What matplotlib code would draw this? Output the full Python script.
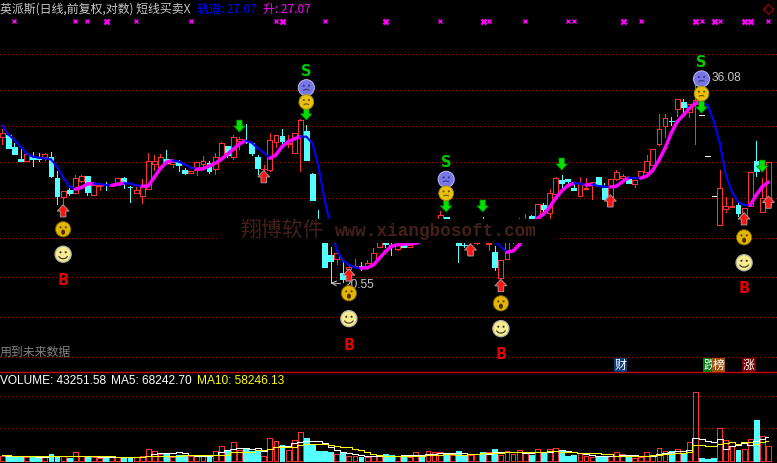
import matplotlib
matplotlib.use("Agg")
import matplotlib.pyplot as plt
from matplotlib.offsetbox import AnnotationBbox, DrawingArea
from matplotlib.patches import Arc, Circle, Ellipse, Polygon, Rectangle

# ───────── Data ──────────────────────────────────────────────────────
opens = [
    30.60, 30.80, 29.80, 28.84, 28.71, 28.97, 29.00, 29.00, 28.97, 27.38,
    25.99, 26.52, 26.31, 27.16, 27.53, 26.14, 26.79, 26.86, 26.79, 26.94,
    27.38, 26.74, 26.31, 26.06, 26.59, 28.45, 28.21, 28.81, 28.45, 28.58,
    27.96, 27.73, 28.00, 28.45, 28.50, 28.03, 28.89, 29.86, 28.97, 30.30,
    30.32, 30.11, 29.00, 28.04, 27.98, 30.22, 30.71, 30.05, 29.34, 30.71,
    31.14, 27.68, 24.28, 24.01, 22.18, 21.96, 21.10, 21.33, 21.46, 21.52,
    21.44, 21.72, 22.66, 22.92, 22.80, 22.57, 22.80, 22.66, 23.11, 24.01,
    23.37, 23.24, 24.50, 24.59, 23.37, 22.92, 22.81, 22.99, 22.92, 24.35,
    22.86, 22.35, 20.85, 21.96, 22.99, 23.43, 23.75, 24.68, 24.48, 25.42,
    24.87, 26.21, 27.23, 27.28, 26.62, 26.09, 26.57, 26.86, 27.45, 26.64,
    25.97, 27.28, 27.35, 27.30, 26.92, 27.43, 27.85, 28.39, 30.05, 31.56,
    32.02, 33.09, 33.70, 32.82, 33.52, 32.52, 29.08, 26.06, 24.06, 25.14,
    25.32, 25.44, 24.75, 25.37, 28.66, 24.97, 25.44,
]
highs = [
    31.28, 30.80, 30.16, 29.72, 29.21, 29.40, 29.34, 29.32, 29.40, 27.90,
    26.41, 26.62, 27.58, 27.60, 27.53, 26.86, 26.86, 27.08, 26.94, 27.38,
    27.47, 26.79, 26.74, 27.28, 29.32, 29.16, 29.24, 29.56, 28.76, 28.76,
    28.11, 27.90, 28.58, 29.08, 28.66, 29.29, 30.19, 29.86, 30.78, 30.60,
    31.73, 30.22, 29.16, 28.37, 30.94, 30.77, 31.28, 30.80, 31.00, 32.14,
    31.64, 27.73, 25.09, 24.28, 22.69, 22.45, 21.84, 21.58, 21.94, 21.78,
    21.88, 22.61, 23.62, 23.43, 23.24, 23.11, 23.11, 22.92, 24.28, 24.15,
    24.41, 24.35, 25.02, 24.59, 24.28, 23.43, 22.92, 23.90, 24.01, 24.61,
    23.11, 22.74, 21.88, 23.75, 24.28, 24.54, 24.81, 24.75, 25.49, 25.56,
    26.57, 27.43, 27.60, 27.28, 26.94, 27.43, 27.35, 27.06, 27.45, 26.99,
    27.28, 27.98, 27.68, 27.30, 27.23, 27.90, 29.16, 29.62, 32.62, 32.62,
    32.32, 33.94, 33.97, 33.49, 36.08, 32.52, 29.08, 26.06, 27.98, 25.97,
    25.92, 25.56, 25.21, 27.81, 30.30, 27.35, 28.58,
]
lows = [
    30.05, 29.72, 29.24, 28.71, 28.71, 28.29, 28.71, 28.76, 27.47, 25.50,
    25.36, 26.14, 26.28, 27.06, 26.14, 26.14, 26.50, 26.52, 26.79, 26.94,
    26.64, 25.64, 26.31, 25.55, 26.55, 27.98, 28.11, 28.50, 28.24, 27.90,
    27.68, 27.73, 27.62, 28.24, 27.73, 27.68, 28.84, 28.97, 28.86, 29.62,
    30.16, 29.18, 27.68, 27.85, 27.88, 29.83, 30.16, 29.83, 29.34, 27.93,
    28.76, 25.78, 23.11, 21.48, 20.55, 21.64, 20.62, 21.19, 21.44, 21.29,
    21.38, 21.68, 22.66, 22.69, 22.18, 22.49, 22.66, 22.66, 22.99, 23.05,
    23.24, 23.18, 24.50, 24.50, 23.24, 21.78, 22.66, 22.69, 22.86, 23.30,
    22.49, 21.29, 20.85, 21.96, 22.92, 23.30, 23.62, 24.48, 24.48, 24.95,
    24.56, 26.16, 26.74, 26.86, 26.52, 26.09, 26.55, 25.87, 26.81, 25.87,
    25.97, 27.23, 27.18, 26.99, 26.74, 27.43, 27.81, 28.39, 29.97, 30.65,
    31.65, 32.44, 32.67, 32.38, 30.05, 32.52, 29.08, 26.06, 24.06, 24.97,
    25.32, 24.68, 24.75, 25.37, 27.52, 24.97, 25.44,
]
closes = [
    30.94, 29.72, 29.24, 28.71, 29.21, 28.84, 28.86, 29.24, 27.52, 26.06,
    26.41, 26.28, 27.38, 27.53, 26.36, 26.86, 26.83, 26.83, 26.94, 27.38,
    27.08, 26.70, 26.50, 26.72, 28.66, 28.66, 28.97, 28.55, 28.58, 28.34,
    27.76, 27.90, 28.58, 28.66, 27.93, 28.97, 30.11, 29.16, 30.60, 30.44,
    30.22, 29.34, 28.13, 28.07, 30.38, 30.77, 30.30, 30.13, 31.00, 32.08,
    28.76, 25.78, 23.24, 21.48, 21.82, 22.29, 20.79, 21.44, 21.52, 21.44,
    21.72, 22.29, 23.43, 22.89, 22.77, 22.80, 22.69, 22.80, 24.01, 23.24,
    24.28, 24.28, 24.75, 24.50, 24.15, 22.81, 22.77, 23.75, 23.88, 23.43,
    22.92, 21.44, 21.88, 23.62, 24.08, 24.41, 24.48, 24.56, 25.49, 25.14,
    26.26, 27.35, 27.01, 27.13, 26.52, 26.99, 26.64, 27.06, 26.81, 25.87,
    27.28, 27.85, 27.50, 26.99, 27.23, 27.90, 28.71, 29.62, 31.31, 32.23,
    31.99, 33.94, 33.27, 33.49, 33.88, 32.52, 29.08, 26.06, 26.62, 25.34,
    25.39, 24.87, 25.21, 27.81, 27.93, 25.90, 28.58,
]
# trend line, blue while falling and magenta while rising
track = [
    31.62, 30.82, 30.38, 29.83, 29.29, 29.02, 28.94, 28.89, 28.81, 28.24,
    27.43, 26.79, 26.55, 26.67, 26.94, 26.96, 26.94, 26.86, 26.84, 26.92,
    26.99, 26.98, 26.84, 26.78, 26.79, 27.43, 28.11, 28.58, 28.71, 28.63,
    28.42, 28.16, 28.06, 28.07, 28.29, 28.50, 28.81, 29.21, 29.62, 30.05,
    30.30, 30.16, 29.70, 29.34, 28.89, 29.16, 29.83, 30.24, 30.46, 30.66,
    30.65, 30.11, 28.24, 25.78, 24.01, 22.49, 21.84, 21.60, 21.44, 21.40,
    21.42, 21.58, 21.98, 22.39, 22.72, 22.82, 22.86, 22.88, 22.91, 23.05,
    23.30, 23.62, 23.81, 23.94, 24.01, 23.98, 23.94, 23.81, 23.62, 23.43,
    23.24, 23.05, 22.67, 22.35, 22.43, 22.80, 23.49, 24.08, 24.52, 24.80,
    25.27, 25.90, 26.43, 26.81, 26.99, 26.97, 26.86, 26.89, 26.79, 26.74,
    26.72, 26.77, 27.11, 27.38, 27.38, 27.37, 27.53, 27.98, 28.76, 29.70,
    30.94, 31.93, 32.50, 33.12, 33.58, 33.73, 33.42, 32.00, 30.11, 27.60,
    26.38, 25.66, 25.44, 25.42, 26.14, 26.74, 27.07,
]
# volume in thousands
volume = [
    14.0, 14.0, 14.0, 14.0, 11.2, 11.2, 11.2, 11.2, 21.4, 14.0,
    14.0, 10.2, 26.0, 14.0, 14.0, 12.1, 9.3, 12.1, 11.2, 11.2,
    11.2, 11.2, 11.2, 14.9, 34.4, 28.8, 21.4, 21.4, 13.0, 19.5,
    17.7, 14.0, 14.0, 15.8, 14.0, 28.8, 43.7, 28.8, 53.9, 30.7,
    38.1, 27.9, 32.6, 15.8, 65.1, 56.7, 46.5, 32.6, 59.5, 81.8,
    66.0, 47.4, 29.8, 29.8, 27.0, 20.5, 25.1, 14.9, 14.9, 13.0,
    13.0, 14.9, 14.9, 21.4, 17.7, 14.9, 17.7, 13.0, 26.0, 17.7,
    28.8, 25.1, 26.0, 19.5, 17.7, 29.8, 18.6, 17.7, 20.5, 26.0,
    26.0, 35.3, 17.7, 28.8, 20.5, 31.6, 23.3, 18.6, 34.4, 25.1,
    34.4, 37.2, 28.8, 15.8, 18.6, 22.3, 14.9, 12.1, 13.0, 14.0,
    15.8, 26.0, 21.4, 13.0, 8.4, 12.1, 26.0, 17.7, 37.2, 27.9,
    27.9, 34.4, 22.3, 53.9, 193.4, 9.3, 7.4, 9.3, 93.0, 59.5,
    42.8, 31.6, 34.4, 62.3, 116.3, 70.7, 43.25,
]
ma5 = [
    17.7, 16.7, 16.7, 15.8, 14.9, 14.0, 13.0, 13.0, 14.0, 14.9,
    14.9, 14.0, 14.9, 15.8, 15.8, 14.0, 12.1, 11.2, 12.1, 11.2,
    11.2, 11.2, 11.2, 12.1, 16.7, 20.5, 22.3, 24.2, 23.3, 25.1,
    23.3, 19.5, 15.8, 14.9, 15.8, 19.5, 25.1, 30.7, 34.4, 37.0,
    39.0, 35.8, 36.6, 30.0, 34.4, 39.6, 43.4, 43.4, 52.0, 55.4,
    57.2, 57.4, 56.9, 51.0, 40.0, 31.0, 26.4, 23.4, 20.5, 17.6,
    16.2, 14.2, 14.2, 15.2, 16.6, 16.6, 17.2, 17.0, 17.9, 17.9,
    20.5, 22.1, 24.7, 23.4, 23.4, 23.6, 22.3, 20.6, 20.7, 22.5,
    21.8, 25.1, 25.1, 26.8, 25.6, 26.8, 24.4, 24.6, 25.7, 26.6,
    27.2, 30.0, 32.0, 28.3, 27.0, 24.5, 20.1, 16.8, 16.2, 15.3,
    14.0, 16.2, 18.0, 18.0, 16.9, 16.2, 16.2, 15.4, 20.3, 24.2,
    27.4, 29.0, 30.0, 33.2, 66.4, 62.6, 57.2, 54.6, 62.5, 35.7,
    42.4, 47.2, 52.2, 46.2, 57.4, 63.0, 68.24,
]
ma10 = [
    19.5, 19.5, 16.7, 16.7, 16.7, 14.9, 14.9, 14.9, 14.0, 14.0,
    14.0, 14.0, 14.0, 14.0, 14.0, 14.0, 14.0, 14.0, 14.0, 12.1,
    12.1, 12.1, 12.1, 12.1, 14.0, 14.0, 15.8, 15.8, 16.7, 16.7,
    17.7, 19.5, 19.5, 19.5, 19.5, 17.7, 19.5, 19.5, 26.0, 26.0,
    26.0, 26.0, 30.7, 30.7, 35.3, 39.1, 40.9, 40.0, 40.9, 44.6,
    47.4, 47.4, 47.4, 49.3, 44.6, 42.8, 40.0, 39.1, 34.4, 30.7,
    26.0, 20.5, 17.7, 16.7, 16.7, 16.7, 15.8, 15.8, 16.7, 16.7,
    19.5, 19.5, 19.5, 20.5, 20.5, 19.5, 19.5, 21.4, 21.4, 22.3,
    22.3, 24.2, 24.2, 25.1, 25.1, 25.1, 25.1, 26.0, 26.0, 26.0,
    27.9, 27.9, 27.0, 26.0, 26.0, 24.2, 24.2, 22.3, 22.3, 20.5,
    20.5, 16.7, 16.7, 15.8, 15.8, 14.9, 15.8, 18.6, 18.6, 20.5,
    20.5, 23.3, 23.3, 25.1, 45.6, 44.6, 42.8, 42.8, 49.3, 52.1,
    53.9, 49.3, 53.9, 53.9, 47.4, 54.9, 58.25,
]
price_grid = [38.42, 34.83, 31.56, 28.60, 25.92, 23.24, 20.89, 18.73, 16.79]
volume_grid = [182.7, 93.5]
separator_level = 249.7

# signals: candle index plus the price level of each stacked icon
buy_idx = [10, 57, 82, 122]
buy_arrow = [25.02, 21.00, 20.40, 24.48]
buy_shock = [23.80, 19.98, 19.44, 23.28]
buy_smile = [22.23, 18.64, 18.14, 21.72]
buy_label = [20.68, 17.30, 16.88, 20.22]

sell_idx = [50, 73, 115]
sell_label = [36.67, 28.55, 37.49]
sell_purple = [35.04, 27.28, 35.89]
sell_yellow = [33.70, 26.26, 34.48]
sell_arrow = [32.62, 25.37, 33.25]

up_arrow_idx = [43, 77, 100, 126]
up_arrow_price = [27.47, 22.49, 25.71, 25.62]
down_arrow_idx = [39, 79, 92, 125]
down_arrow_price = [31.56, 25.37, 28.45, 28.29]

mark_idx = [2, 12, 14, 22, 31, 45, 53, 72, 80, 86, 93, 94, 105, 115, 118, 126]
mark_bold_idx = [17, 46, 63, 79, 102, 114, 117, 122, 123]
mark_price = 42.0

RED = "#FF3232"
CYAN = "#54FFFF"
GRID = "#A80000"
LATIN = ["Liberation Sans", "Noto Sans CJK SC"]
CJK = ["Noto Sans CJK SC", "DejaVu Sans"]


def px(x, y):
    return x / 777, 1 - y / 463


fig = plt.figure(figsize=(7.77, 4.63), dpi=100, facecolor="black")
ax = fig.add_axes([0, 103 / 463, 1, 360 / 463])
ax_vol = fig.add_axes([0, 0, 1, 103 / 463])
for a in (ax, ax_vol):
    a.set_xlim(-0.383, 127.41)
    a.set_axis_off()
ax.set_yscale("log")
ax.set_ylim(16.65, 44.53)
ax_vol.set_ylim(-4.2, 283)

# ───────── Candles ───────────────────────────────────────────────────
for lvl in price_grid:
    ax.axhline(lvl, color=GRID, lw=0.72, ls=(0, (1, 3.3)), zorder=1, antialiased=False)

idx = list(range(len(opens)))
for i in idx:
    o, h, l, c = opens[i], highs[i], lows[i], closes[i]
    if o == c:
        ax.hlines(c, i - 0.36, i + 0.36, color="white", lw=0.72, zorder=3, antialiased=False)
        continue
    col = RED if c > o else CYAN
    ax.vlines(i, l, h, color=col, lw=0.72, zorder=2, antialiased=False)
    ax.bar(i, abs(c - o), bottom=min(o, c), width=0.8,
           facecolor="black" if c > o else CYAN, edgecolor=col, lw=0.72, zorder=3,
           antialiased=False)

for i in idx[:-1]:
    rising = track[i + 1] > track[i]
    ax.plot([i, i + 1], track[i:i + 2], color="#FF00FF" if rising else "#0000FF",
            lw=2.5 if rising else 1.5, solid_capstyle="round", zorder=4)

ax.plot(mark_idx, [mark_price] * len(mark_idx), ls="none", marker="x", ms=3.2, mew=1.0,
        color="#FF00FF", zorder=4)
ax.plot(mark_bold_idx, [mark_price] * len(mark_bold_idx), ls="none", marker="x", ms=3.6, mew=1.8,
        color="#FF00FF", zorder=4)
ax.plot([126], [43.42], ls="none", marker="D", ms=5.2, mew=0.8, mfc="none", mec="#B00000", zorder=4)

# the watermark wipes out whatever sits behind it
ax.add_patch(Rectangle((35.8, 22.92), 55.1, 24.48 - 22.92, facecolor="black", edgecolor="none", zorder=5))


# ───────── Icons ─────────────────────────────────────────────────────
def icon(i, price, artists, size=12):
    da = DrawingArea(size, size, 0, 0)
    for art in artists:
        da.add_artist(art)
    ax.add_artist(AnnotationBbox(da, (i, price), frameon=False, pad=0,
                                 box_alignment=(0.5, 0.5), zorder=7))


def eyes(col):
    return [Circle((4.1, 7.4), 0.75, fc=col, ec="none"), Circle((7.9, 7.4), 0.75, fc=col, ec="none")]


def purple_face():
    return [Circle((6, 6), 5.8, fc="#7676E6", ec="#BEBEF2", lw=0.7)] + eyes("#35357A") + [
        Arc((6, 2.8), 5.5, 4, theta1=30, theta2=150, color="#35357A", lw=0.8)]


def yellow_face():
    return [Circle((6, 6), 5.3, fc="#E8C010", ec="#A88A00", lw=0.6)] + eyes("#705000") + [
        Arc((6, 2.8), 5, 3.6, theta1=30, theta2=150, color="#705000", lw=0.8)]


def shock_face():
    return [Circle((6, 6), 5.5, fc="#E2B600", ec="#7A6000", lw=0.6)] + eyes("#5A3C00") + [
        Ellipse((6, 3.9), 2.8, 3.8, fc="#4A2A00", ec="none")]


def smile_face():
    return [Circle((6, 6), 5.8, fc="#F8EC90", ec="#B4B4A8", lw=0.9)] + eyes("#303020") + [
        Arc((6, 5.8), 7, 6, theta1=200, theta2=340, color="#303020", lw=0.8)]


def up_arrow():
    pts = [(4.5, 9), (0.2, 4.4), (2.5, 4.4), (2.5, 0.2), (6.5, 0.2), (6.5, 4.4), (8.8, 4.4)]
    return [Polygon(pts, fc="#FF1414", ec="#A89898", lw=0.7)]


def down_arrow():
    pts = [(4.5, 0), (0.2, 4.6), (2.5, 4.6), (2.5, 8.8), (6.5, 8.8), (6.5, 4.6), (8.8, 4.6)]
    return [Polygon(pts, fc="#00E000", ec="#007000", lw=0.5)]


for k, i in enumerate(buy_idx):
    icon(i, buy_arrow[k], up_arrow(), size=9)
    icon(i, buy_shock[k], shock_face())
    icon(i, buy_smile[k], smile_face())
    ax.text(i, buy_label[k], "B", color="#E00000", fontsize=10.5, fontfamily="DejaVu Sans",
            fontweight="bold", ha="center", va="center", clip_on=True, zorder=7)

for k, i in enumerate(sell_idx):
    icon(i, sell_arrow[k], down_arrow(), size=9)
    icon(i, sell_purple[k], purple_face())
    icon(i, sell_yellow[k], yellow_face())
    ax.text(i, sell_label[k], "S", color="#00C800", fontsize=10.5, fontfamily="DejaVu Sans",
            fontweight="bold", ha="center", va="center", zorder=7)

for i, p in zip(up_arrow_idx, up_arrow_price):
    icon(i, p, up_arrow(), size=9)
for i, p in zip(down_arrow_idx, down_arrow_price):
    icon(i, p, down_arrow(), size=9)

# high and low call-outs
ax.annotate("36.08", xy=(114, 36.08), xytext=(16, -1), textcoords="offset pixels", color="#C8C8C8",
            fontsize=8.6, fontfamily=LATIN, va="center", zorder=6)
ax.annotate("20.55", xy=(54, 20.55), xytext=(14, -2), textcoords="offset pixels", color="#C8C8C8",
            fontsize=8.6, fontfamily=LATIN, va="center", zorder=6,
            arrowprops=dict(arrowstyle="->", color="#C8C8C8", lw=0.7, shrinkA=1, shrinkB=0))

# ───────── Volume pane ───────────────────────────────────────────────
for lvl in volume_grid:
    ax_vol.axhline(lvl, color=GRID, lw=0.72, ls=(0, (1, 3.3)), zorder=1, antialiased=False)
ax_vol.axhline(separator_level, color="#C80000", lw=1.0, zorder=1)

for i in idx:
    up = closes[i] > opens[i]
    ax_vol.bar(i, volume[i], width=0.8, facecolor="black" if up else CYAN,
               edgecolor=RED if up else CYAN, lw=0.72, zorder=2, antialiased=False)
ax_vol.step(idx, ma5, where="mid", color="white", lw=0.75, zorder=4)
ax_vol.step(idx, ma10, where="mid", color="#FFFF00", lw=0.75, zorder=4)

# ───────── Header and labels ─────────────────────────────────────────
fig.text(*px(0, 9), "英派斯(日线,前复权,对数) 短线买卖X", color="#C8C8C8", fontsize=8.6, fontfamily=CJK, va="center")
fig.text(*px(197, 9), "轨道: 27.07", color="#0000FF", fontsize=8.6, fontfamily=CJK, va="center")
fig.text(*px(263, 9), "升: 27.07", color="#FF00FF", fontsize=8.6, fontfamily=CJK, va="center")
fig.text(*px(0, 352), "用到未来数据", color="#808080", fontsize=8.6, fontfamily=CJK, va="center")

fig.text(*px(0, 381), "VOLUME: 43251.58", color="white", fontsize=8.6, fontfamily=LATIN, va="center")
fig.text(*px(111, 381), "MA5: 68242.70", color="white", fontsize=8.6, fontfamily=LATIN, va="center")
fig.text(*px(197, 381), "MA10: 58246.13", color="#FFFF00", fontsize=8.6, fontfamily=LATIN, va="center")

fig.text(*px(240, 231), "翔博软件", color="#43201A", fontsize=15, fontfamily=CJK, va="center")
fig.text(*px(335, 232), "www.xiangbosoft.com", color="#43201A", fontsize=12.7,
         fontfamily="Liberation Mono", fontweight="bold", va="center")

for x, label, bg in [(704, "跌", "#007A10"), (712.5, "榜", "#A05410"), (614.5, "财", "#0A3C78"), (743, "涨", "#7A0000")]:
    fig.text(*px(x, 365), label, color="white", fontsize=8.6, fontfamily=CJK, va="center",
             bbox=dict(facecolor=bg, edgecolor="none", pad=0.5))

fig.savefig("out.png", dpi=100, facecolor="black")
